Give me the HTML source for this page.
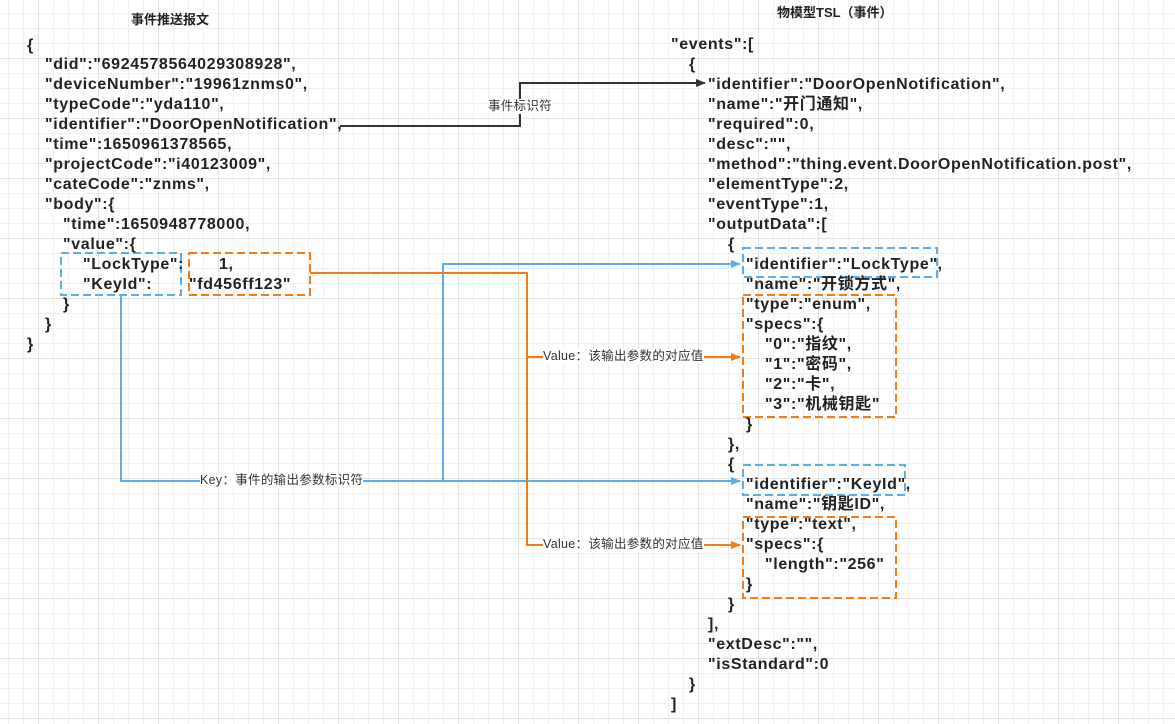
<!DOCTYPE html>
<html><head><meta charset="utf-8"><style>
html,body{margin:0;padding:0}
body{width:1175px;height:724px;position:relative;overflow:hidden;background-color:#fff;
background-image:
linear-gradient(to right,#e3e3e3 1px,transparent 1px),
linear-gradient(to bottom,#e3e3e3 1px,transparent 1px),
linear-gradient(to right,#f0f0f0 1px,transparent 1px),
linear-gradient(to bottom,#f0f0f0 1px,transparent 1px);
background-size:60px 60px,60px 60px,15px 15px,15px 15px;
background-position:38px 58px,38px 58px,8px 13px,8px 13px;
font-family:"Liberation Sans","Noto Sans CJK SC",sans-serif;}
.t{position:absolute;font-size:16px;letter-spacing:0.65px;font-weight:bold;color:#222;line-height:20px;white-space:pre;}
.h{position:absolute;font-size:13px;font-weight:bold;color:#222;white-space:pre;}
.l{position:absolute;font-size:12.5px;letter-spacing:0.3px;color:#333;background:#fff;line-height:15px;white-space:pre;}
svg{position:absolute;left:0;top:0}
</style></head><body>
<svg width="1175" height="724">
<defs>
<marker id="ak" markerWidth="10" markerHeight="8" refX="9" refY="4" orient="auto" markerUnits="userSpaceOnUse"><path d="M0,0L10,4L0,8z" fill="#333"/></marker>
<marker id="ab" markerWidth="10" markerHeight="8" refX="9" refY="4" orient="auto" markerUnits="userSpaceOnUse"><path d="M0,0L10,4L0,8z" fill="#5aaef0"/></marker>
<marker id="ao" markerWidth="10" markerHeight="8" refX="9" refY="4" orient="auto" markerUnits="userSpaceOnUse"><path d="M0,0L10,4L0,8z" fill="#f07c1a"/></marker>
</defs>
<g fill="none" stroke-width="2" stroke-dasharray="8,4">
<rect x="61" y="253" width="120" height="42" stroke="#5aaef0"/>
<rect x="189" y="253" width="121" height="42" stroke="#f07c1a"/>
<rect x="743" y="248" width="194" height="29" stroke="#5aaef0"/>
<rect x="743" y="295" width="153" height="122" stroke="#f07c1a"/>
<rect x="743" y="465" width="162" height="30" stroke="#5aaef0"/>
<rect x="743" y="517" width="153" height="81" stroke="#f07c1a"/>
</g>
<g fill="none" stroke-width="2">
<polyline points="340,126 520,126 520,83 705,83" stroke="#333" marker-end="url(#ak)"/>
<polyline points="121,295 121,481 740,481" stroke="#5aaef0" marker-end="url(#ab)"/>
<polyline points="443,481 443,264 740,264" stroke="#5aaef0" marker-end="url(#ab)"/>
<polyline points="310,273 527,273 527,545 740,545" stroke="#f07c1a" marker-end="url(#ao)"/>
<polyline points="527,357 740,357" stroke="#f07c1a" marker-end="url(#ao)"/>
</g>
</svg>
<div class="h" style="left:131px;top:9px">事件推送报文</div>
<div class="h" style="left:777px;top:2px">物模型TSL（事件）</div>
<div class="l" style="left:488px;top:99px">事件标识符</div>
<div class="l" style="left:200px;top:473px">Key：事件的输出参数标识符</div>
<div class="l" style="left:543px;top:349px">Value：该输出参数的对应值</div>
<div class="l" style="left:543px;top:537px">Value：该输出参数的对应值</div>

<div class="t" style="left:27px;top:36px">{</div>
<div class="t" style="left:45px;top:55px">"did":"6924578564029308928",
"deviceNumber":"19961znms0",
"typeCode":"yda110",
"identifier":"DoorOpenNotification",
"time":1650961378565,
"projectCode":"i40123009",
"cateCode":"znms",
"body":{</div>
<div class="t" style="left:63px;top:215px">"time":1650948778000,
"value":{</div>
<div class="t" style="left:83px;top:255px">"LockType":
"KeyId":</div>
<div class="t" style="left:219px;top:255px">1,</div>
<div class="t" style="left:189px;top:275px">"fd456ff123"</div>
<div class="t" style="left:63px;top:295px">}</div>
<div class="t" style="left:45px;top:315px">}</div>
<div class="t" style="left:27px;top:335px">}</div>

<div class="t" style="left:671px;top:35px">"events":[</div>
<div class="t" style="left:689px;top:55px">{</div>
<div class="t" style="left:708px;top:75px">"identifier":"DoorOpenNotification",
"name":"开门通知",
"required":0,
"desc":"",
"method":"thing.event.DoorOpenNotification.post",
"elementType":2,
"eventType":1,
"outputData":[</div>
<div class="t" style="left:728px;top:235px">{</div>
<div class="t" style="left:746px;top:255px">"identifier":"LockType",
"name":"开锁方式",
"type":"enum",
"specs":{</div>
<div class="t" style="left:765px;top:335px">"0":"指纹",
"1":"密码",
"2":"卡",
"3":"机械钥匙"</div>
<div class="t" style="left:746px;top:415px">}</div>
<div class="t" style="left:728px;top:435px">},
{</div>
<div class="t" style="left:746px;top:475px">"identifier":"KeyId",
"name":"钥匙ID",
"type":"text",
"specs":{</div>
<div class="t" style="left:765px;top:555px">"length":"256"</div>
<div class="t" style="left:746px;top:575px">}</div>
<div class="t" style="left:728px;top:595px">}</div>
<div class="t" style="left:708px;top:615px">],
"extDesc":"",
"isStandard":0</div>
<div class="t" style="left:689px;top:675px">}</div>
<div class="t" style="left:671px;top:695px">]</div>
</body></html>
